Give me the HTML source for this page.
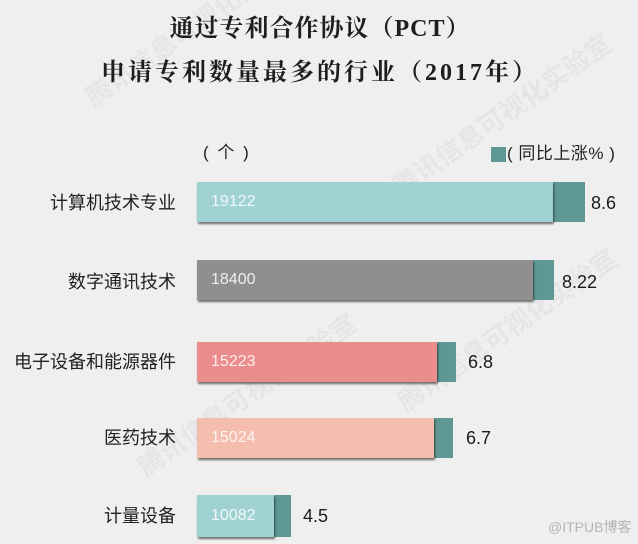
<!DOCTYPE html>
<html>
<head>
<meta charset="utf-8">
<style>
  html,body{margin:0;padding:0;}
  body{width:638px;height:544px;background:#efefef;position:relative;overflow:hidden;
    font-family:"Liberation Sans","Noto Sans CJK SC",sans-serif;}
  .abs{position:absolute;}
  .title{left:0;width:640px;text-align:center;font-family:"Liberation Serif","Noto Serif CJK SC",serif;
    font-weight:700;color:#1e1e1e;font-size:24px;white-space:nowrap;}
  .lbl{right:462px;text-align:right;font-size:18px;color:#222;white-space:nowrap;height:24px;line-height:24px;}
  .bar{position:absolute;height:40px;}
  .main{box-shadow:1px 2px 2px rgba(0,0,0,0.55);z-index:2;}
  .teal{background:#5f9795;z-index:1;}
  .num{position:absolute;left:14px;top:0;line-height:40px;font-size:16px;color:rgba(255,255,255,0.85);}
  .val{font-size:18px;color:#1a1a1a;height:24px;line-height:24px;}
  .wm{font-family:"Liberation Sans","Noto Sans CJK SC",sans-serif;color:rgba(0,0,0,0.04);font-size:26px;
    transform-origin:left center;transform:rotate(-35deg);white-space:nowrap;font-weight:700;}
</style>
</head>
<body>
  <!-- watermarks -->
  <div class="abs wm" style="left:88px;top:80px;">腾讯信息可视化实验室</div>
  <div class="abs wm" style="left:395px;top:170px;">腾讯信息可视化实验室</div>
  <div class="abs wm" style="left:140px;top:450px;">腾讯信息可视化实验室</div>
  <div class="abs wm" style="left:400px;top:385px;">腾讯信息可视化实验室</div>

  <div class="abs title" style="top:14px;height:30px;line-height:30px;letter-spacing:1px;">通过专利合作协议（PCT）</div>
  <div class="abs title" style="top:58px;height:30px;line-height:30px;letter-spacing:3px;">申请专利数量最多的行业（2017年）</div>

  <div class="abs" style="left:203px;top:141px;font-size:17px;color:#222;line-height:24px;letter-spacing:2px;">(&nbsp;个&nbsp;)</div>
  <div class="abs" style="left:491px;top:147px;width:15px;height:15px;background:#5f9795;"></div>
  <div class="abs" style="left:507px;top:142px;font-size:17px;color:#222;line-height:24px;letter-spacing:0.5px;">(&nbsp;同比上涨%&nbsp;)</div>

  <!-- labels -->
  <div class="abs lbl" style="top:191px;">计算机技术专业</div>
  <div class="abs lbl" style="top:270px;">数字通讯技术</div>
  <div class="abs lbl" style="top:350px;">电子设备和能源器件</div>
  <div class="abs lbl" style="top:426px;">医药技术</div>
  <div class="abs lbl" style="top:504px;">计量设备</div>

  <!-- bar 1 -->
  <div class="bar teal" style="left:550px;top:182px;width:35px;"></div>
  <div class="bar main" style="left:197px;top:182px;width:356px;background:#a0d2d3;"><span class="num">19122</span></div>
  <div class="abs val" style="left:591px;top:191px;">8.6</div>

  <!-- bar 2 -->
  <div class="bar teal" style="left:530px;top:260px;width:24px;"></div>
  <div class="bar main" style="left:197px;top:260px;width:336px;background:#8f8f8f;"><span class="num">18400</span></div>
  <div class="abs val" style="left:562px;top:270px;">8.22</div>

  <!-- bar 3 -->
  <div class="bar teal" style="left:434px;top:342px;width:22px;"></div>
  <div class="bar main" style="left:197px;top:342px;width:240px;background:#ec8d8d;"><span class="num">15223</span></div>
  <div class="abs val" style="left:468px;top:350px;">6.8</div>

  <!-- bar 4 -->
  <div class="bar teal" style="left:431px;top:418px;width:22px;"></div>
  <div class="bar main" style="left:197px;top:418px;width:237px;background:#f4bdae;"><span class="num">15024</span></div>
  <div class="abs val" style="left:466px;top:426px;">6.7</div>

  <!-- bar 5 -->
  <div class="bar teal" style="left:271px;top:495px;width:20px;height:42px;"></div>
  <div class="bar main" style="left:197px;top:495px;width:77px;height:42px;background:#a0d2d3;"><span class="num" style="line-height:42px;">10082</span></div>
  <div class="abs val" style="left:303px;top:504px;">4.5</div>

  <div class="abs" style="left:548px;top:518px;font-size:14px;color:#b5b5b5;line-height:18px;">@ITPUB博客</div>
</body>
</html>
